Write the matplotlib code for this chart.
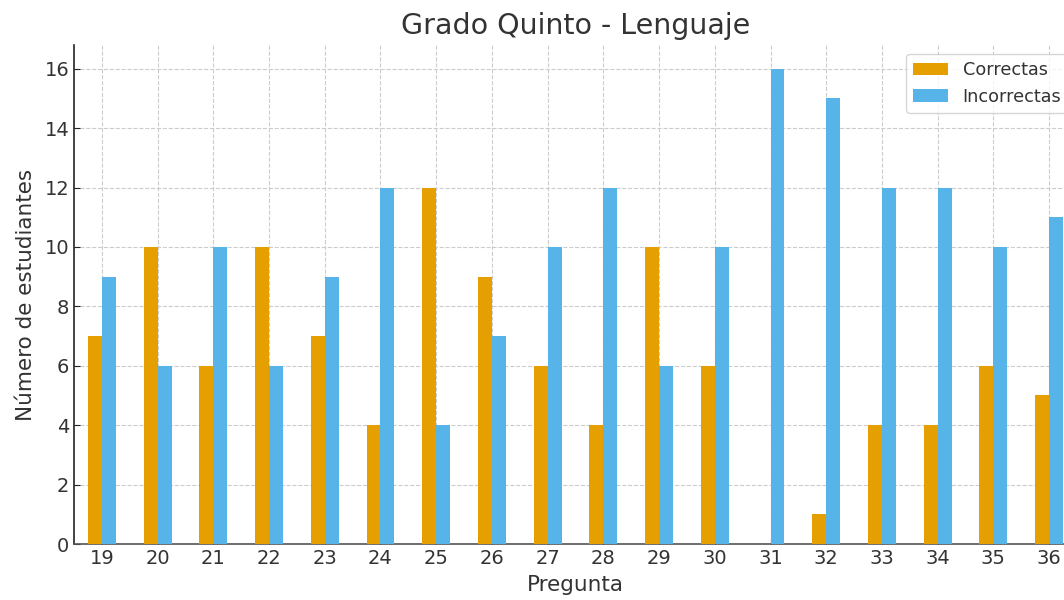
import matplotlib
matplotlib.use("Agg")
import matplotlib.pyplot as plt
import numpy as np

preguntas = ["19", "20", "21", "22", "23", "24", "25", "26", "27", "28",
             "29", "30", "31", "32", "33", "34", "35", "36"]
correctas = [7, 10, 6, 10, 7, 4, 12, 9, 6, 4, 10, 6, 0, 1, 4, 4, 6, 5]
incorrectas = [9, 6, 10, 6, 9, 12, 4, 7, 10, 12, 6, 10, 16, 15, 12, 12, 10, 11]

plt.rcParams['font.family'] = ['DejaVu Sans']
text_color = '#333333'

fig = plt.figure(figsize=(10.64, 6.0), dpi=100)
ax = fig.add_axes([74/1064, 56/600, (1077-74)/1064, (544-45)/600])

x = np.arange(len(preguntas))
w = 0.25
ax.bar(x - w/2, correctas, w, color='#E69F00', label='Correctas', zorder=3)
ax.bar(x + w/2, incorrectas, w, color='#56B4E9', label='Incorrectas', zorder=3)

ax.set_xlim(-0.5, len(preguntas) - 0.5)
ax.set_ylim(0, 16.8)
ax.set_xticks(x)
ax.set_xticklabels(preguntas)
ax.set_yticks(np.arange(0, 17, 2))

ax.grid(True, linestyle='--', color='#cccccc', linewidth=0.8, zorder=0)
for s in ['top', 'right']:
    ax.spines[s].set_visible(False)
ax.spines['left'].set_color('#222222')
ax.spines['bottom'].set_color('#555555')
ax.spines['left'].set_linewidth(1.2)
ax.spines['bottom'].set_linewidth(1.2)
ax.tick_params(direction='in', length=4, labelsize=14, colors='#222222', labelcolor=text_color)

ax.set_title('Grado Quinto - Lenguaje', fontsize=20.5, color=text_color, pad=8)
ax.set_xlabel('Pregunta', fontsize=15.5, color=text_color, labelpad=5)
ax.set_ylabel('Número de estudiantes', fontsize=15.5, color=text_color, labelpad=6)

leg = ax.legend(loc='upper right', fontsize=12.7, frameon=True, fancybox=True,
                edgecolor='#cccccc', bbox_to_anchor=(1.0, 1.0))
for t in leg.get_texts():
    t.set_color(text_color)

fig.savefig('out.png', dpi=100)
